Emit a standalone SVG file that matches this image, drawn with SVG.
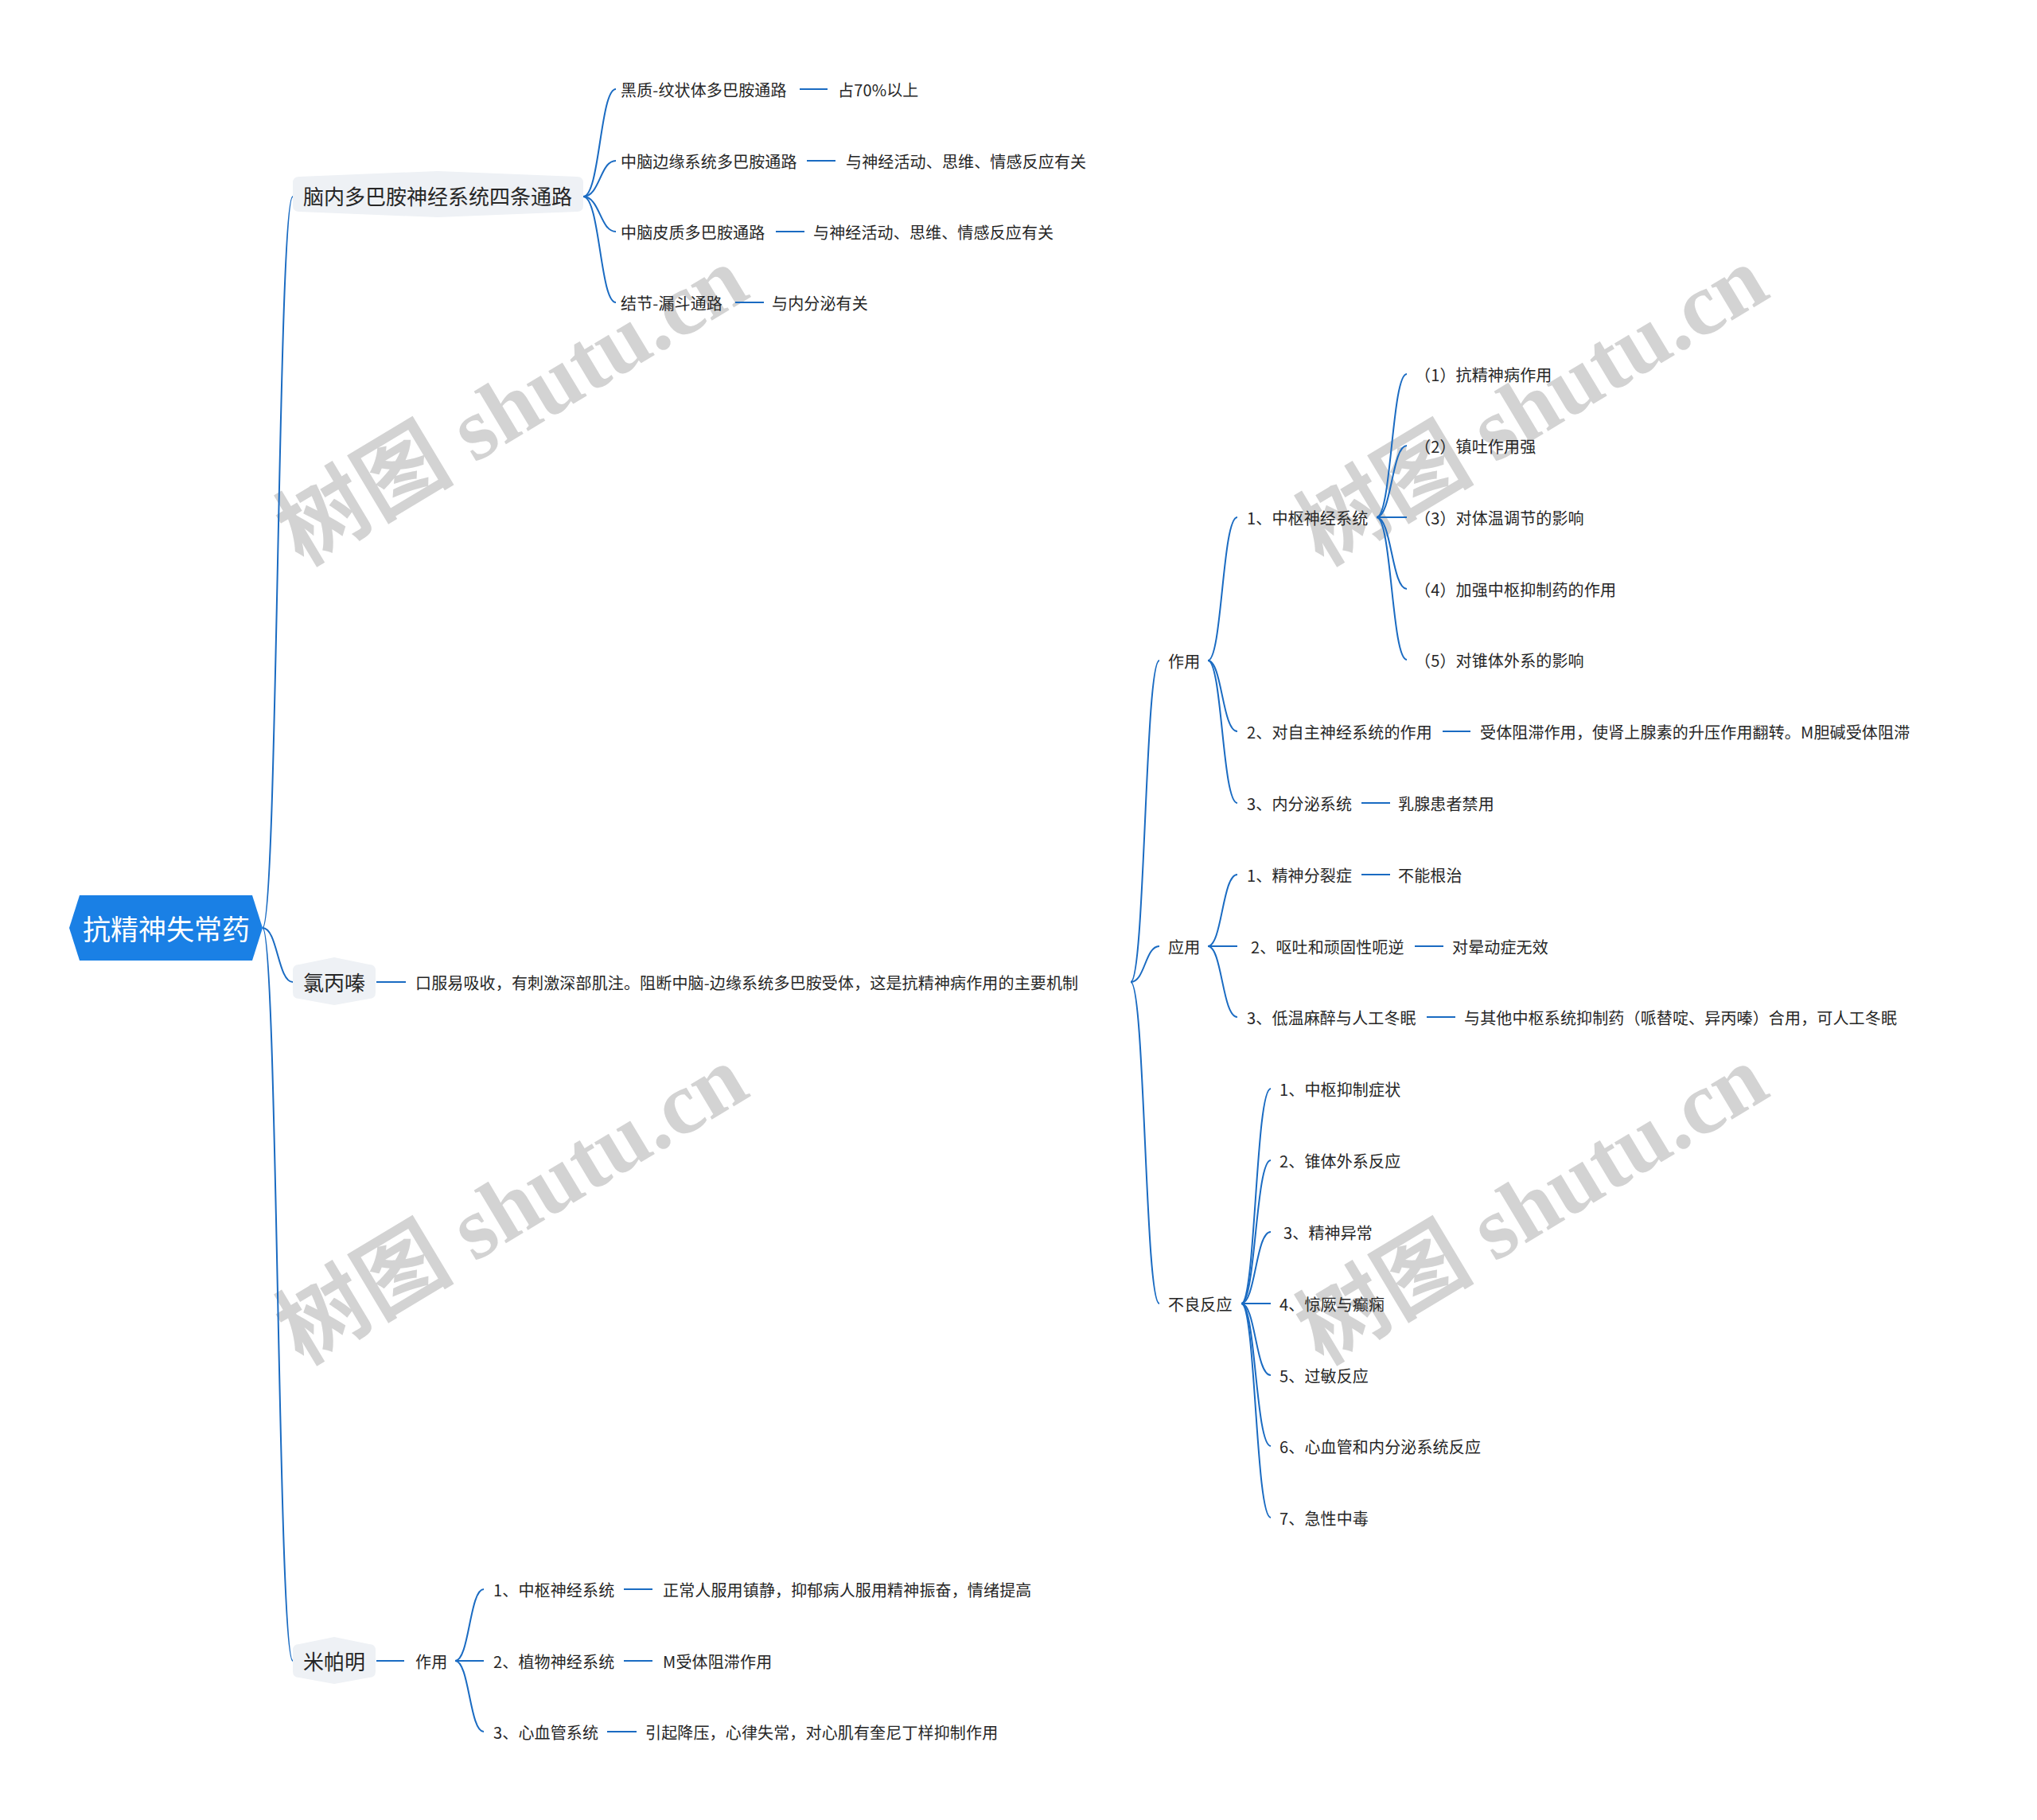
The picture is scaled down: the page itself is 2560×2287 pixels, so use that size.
<svg xmlns="http://www.w3.org/2000/svg" width="2560" height="2287" viewBox="0 0 2560 2287">
<style>
.t{font-family:"Noto Sans CJK SC","Microsoft YaHei",sans-serif;font-size:20px;letter-spacing:0.15px;fill:#262626;dominant-baseline:central}
.b{font-family:"Noto Sans CJK SC",sans-serif;font-size:26px;fill:#262626;dominant-baseline:central;text-anchor:middle}
.r{font-family:"Noto Sans CJK SC",sans-serif;font-size:35px;fill:#ffffff;dominant-baseline:central;text-anchor:middle}
.wm{font-family:"Liberation Serif","Noto Sans CJK SC",serif;font-size:112px;font-weight:bold;fill:#d3d3d3}
.c{fill:none;stroke:#1a6bc2;stroke-width:2}
.bn{fill:#eef1f5}
</style>
<rect width="2560" height="2287" fill="#ffffff"/>
<g id="watermarks">
<text class="wm" transform="translate(380,712) rotate(-31)">树图 shutu.cn</text>
<text class="wm" transform="translate(1662,712) rotate(-31)">树图 shutu.cn</text>
<text class="wm" transform="translate(380,1716) rotate(-31)">树图 shutu.cn</text>
<text class="wm" transform="translate(1662,1716) rotate(-31)">树图 shutu.cn</text>
</g>
<g id="connectors">
<path class="c" d="M330 1166 C349 1166 349 247 368 247"/>
<path class="c" d="M330 1166 C349 1166 349 1234 368 1234"/>
<path class="c" d="M330 1166 C349 1166 349 2087 368 2087"/>
<path class="c" d="M733 247 C754 247 754 112 774 112"/>
<path class="c" d="M733 247 C754 247 754 202 774 202"/>
<path class="c" d="M733 247 C754 247 754 291 774 291"/>
<path class="c" d="M733 247 C754 247 754 380 774 380"/>
<path class="c" d="M1005 112 H1040 M1014 202 H1050 M975 291 H1011 M924 380 H960"/>
<path class="c" d="M473 1234 H510"/>
<path class="c" d="M1421 1234 C1439 1234 1439 830 1457 830"/>
<path class="c" d="M1421 1234 C1439 1234 1439 1189 1457 1189"/>
<path class="c" d="M1421 1234 C1439 1234 1439 1638 1457 1638"/>
<path class="c" d="M1518 830 C1536 830 1536 650 1555 650"/>
<path class="c" d="M1518 830 C1536 830 1536 919 1555 919"/>
<path class="c" d="M1518 830 C1536 830 1536 1009 1555 1009"/>
<path class="c" d="M1730 650 C1749 650 1749 470 1768 470"/>
<path class="c" d="M1730 650 C1749 650 1749 560 1768 560"/>
<path class="c" d="M1730 650 H1768"/>
<path class="c" d="M1730 650 C1749 650 1749 740 1768 740"/>
<path class="c" d="M1730 650 C1749 650 1749 829 1768 829"/>
<path class="c" d="M1813 919 H1848 M1711 1009 H1747"/>
<path class="c" d="M1518 1189 C1536 1189 1536 1099 1555 1099"/>
<path class="c" d="M1518 1189 H1555"/>
<path class="c" d="M1518 1189 C1536 1189 1536 1278 1555 1278"/>
<path class="c" d="M1711 1099 H1747 M1778 1189 H1814 M1793 1278 H1829"/>
<path class="c" d="M1560 1638 C1578 1638 1578 1368 1597 1368"/>
<path class="c" d="M1560 1638 C1578 1638 1578 1458 1597 1458"/>
<path class="c" d="M1560 1638 C1578 1638 1578 1548 1597 1548"/>
<path class="c" d="M1560 1638 H1597"/>
<path class="c" d="M1560 1638 C1578 1638 1578 1728 1597 1728"/>
<path class="c" d="M1560 1638 C1578 1638 1578 1817 1597 1817"/>
<path class="c" d="M1560 1638 C1578 1638 1578 1907 1597 1907"/>
<path class="c" d="M473 2087 H508"/>
<path class="c" d="M572 2087 C590 2087 590 1997 608 1997"/>
<path class="c" d="M572 2087 H608"/>
<path class="c" d="M572 2087 C590 2087 590 2176 608 2176"/>
<path class="c" d="M784 1997 H820 M784 2087 H820 M763 2176 H800"/>
</g>
<g id="root">
<path d="M87 1166 L100 1125 L317 1125 L330 1166 L317 1207 L100 1207 Z" fill="#1a80e5"/>
<text class="r" x="209" y="1165">抗精神失常药</text>
</g>
<g id="n-naonei">
<path class="bn" d="M376 222 L550 215 L725 222 Q733 222 733 230 L733 258 Q733 266 725 266 L550 273 L376 266 Q368 266 368 258 L368 230 Q368 222 376 222 Z"/>
<text class="b" x="550" y="245">脑内多巴胺神经系统四条通路</text>
</g>
<g id="n-heizhi"><text class="t" x="780" y="112">黑质-纹状体多巴胺通路</text></g>
<g id="n-heizhi-d"><text class="t" x="1053" y="112">占70%以上</text></g>
<g id="n-bianyuan"><text class="t" x="780" y="202">中脑边缘系统多巴胺通路</text></g>
<g id="n-bianyuan-d"><text class="t" x="1063" y="202">与神经活动、思维、情感反应有关</text></g>
<g id="n-pizhi"><text class="t" x="780" y="291">中脑皮质多巴胺通路</text></g>
<g id="n-pizhi-d"><text class="t" x="1022" y="291">与神经活动、思维、情感反应有关</text></g>
<g id="n-jiejie"><text class="t" x="780" y="380">结节-漏斗通路</text></g>
<g id="n-jiejie-d"><text class="t" x="970" y="380">与内分泌有关</text></g>
<g id="n-lbq">
<path class="bn" d="M376 1212 L420 1203 L464 1212 Q472 1212 472 1220 L472 1247 Q472 1255 464 1255 L420 1263 L376 1255 Q368 1255 368 1247 L368 1220 Q368 1212 376 1212 Z"/>
<text class="b" x="420" y="1233">氯丙嗪</text>
</g>
<g id="n-lbq-desc"><text class="t" x="522" y="1234">口服易吸收，有刺激深部肌注。阻断中脑-边缘系统多巴胺受体，这是抗精神病作用的主要机制</text></g>
<g id="n-zuoyong"><text class="t" x="1468" y="830">作用</text></g>
<g id="n-zs"><text class="t" x="1567" y="650">1、中枢神经系统</text></g>
<g id="n-zs1"><text class="t" x="1778" y="470">（1）抗精神病作用</text></g>
<g id="n-zs2"><text class="t" x="1778" y="560">（2）镇吐作用强</text></g>
<g id="n-zs3"><text class="t" x="1778" y="650">（3）对体温调节的影响</text></g>
<g id="n-zs4"><text class="t" x="1778" y="740">（4）加强中枢抑制药的作用</text></g>
<g id="n-zs5"><text class="t" x="1778" y="829">（5）对锥体外系的影响</text></g>
<g id="n-zz"><text class="t" x="1567" y="919">2、对自主神经系统的作用</text></g>
<g id="n-zz-d"><text class="t" x="1860" y="919">受体阻滞作用，使肾上腺素的升压作用翻转。M胆碱受体阻滞</text></g>
<g id="n-nfm"><text class="t" x="1567" y="1009">3、内分泌系统</text></g>
<g id="n-nfm-d"><text class="t" x="1757" y="1009">乳腺患者禁用</text></g>
<g id="n-yingyong"><text class="t" x="1468" y="1189">应用</text></g>
<g id="n-jsfl"><text class="t" x="1567" y="1099">1、精神分裂症</text></g>
<g id="n-jsfl-d"><text class="t" x="1757" y="1099">不能根治</text></g>
<g id="n-out"><text class="t" x="1572" y="1189">2、呕吐和顽固性呃逆</text></g>
<g id="n-out-d"><text class="t" x="1825" y="1189">对晕动症无效</text></g>
<g id="n-dw"><text class="t" x="1567" y="1278">3、低温麻醉与人工冬眠</text></g>
<g id="n-dw-d"><text class="t" x="1840" y="1278">与其他中枢系统抑制药（哌替啶、异丙嗪）合用，可人工冬眠</text></g>
<g id="n-blfy"><text class="t" x="1468" y="1638">不良反应</text></g>
<g id="n-bl1"><text class="t" x="1608" y="1368">1、中枢抑制症状</text></g>
<g id="n-bl2"><text class="t" x="1608" y="1458">2、锥体外系反应</text></g>
<g id="n-bl3"><text class="t" x="1613" y="1548">3、精神异常</text></g>
<g id="n-bl4"><text class="t" x="1608" y="1638">4、惊厥与癫痫</text></g>
<g id="n-bl5"><text class="t" x="1608" y="1728">5、过敏反应</text></g>
<g id="n-bl6"><text class="t" x="1608" y="1817">6、心血管和内分泌系统反应</text></g>
<g id="n-bl7"><text class="t" x="1608" y="1907">7、急性中毒</text></g>
<g id="n-mpm">
<path class="bn" d="M376 2066 L420 2057 L464 2066 Q472 2066 472 2074 L472 2100 Q472 2108 464 2108 L420 2116 L376 2108 Q368 2108 368 2100 L368 2074 Q368 2066 376 2066 Z"/>
<text class="b" x="420" y="2086">米帕明</text>
</g>
<g id="n-mpm-zy"><text class="t" x="522" y="2087">作用</text></g>
<g id="n-m1"><text class="t" x="620" y="1997">1、中枢神经系统</text></g>
<g id="n-m1-d"><text class="t" x="833" y="1997">正常人服用镇静，抑郁病人服用精神振奋，情绪提高</text></g>
<g id="n-m2"><text class="t" x="620" y="2087">2、植物神经系统</text></g>
<g id="n-m2-d"><text class="t" x="833" y="2087">M受体阻滞作用</text></g>
<g id="n-m3"><text class="t" x="620" y="2176">3、心血管系统</text></g>
<g id="n-m3-d"><text class="t" x="811" y="2176">引起降压，心律失常，对心肌有奎尼丁样抑制作用</text></g>
</svg>
